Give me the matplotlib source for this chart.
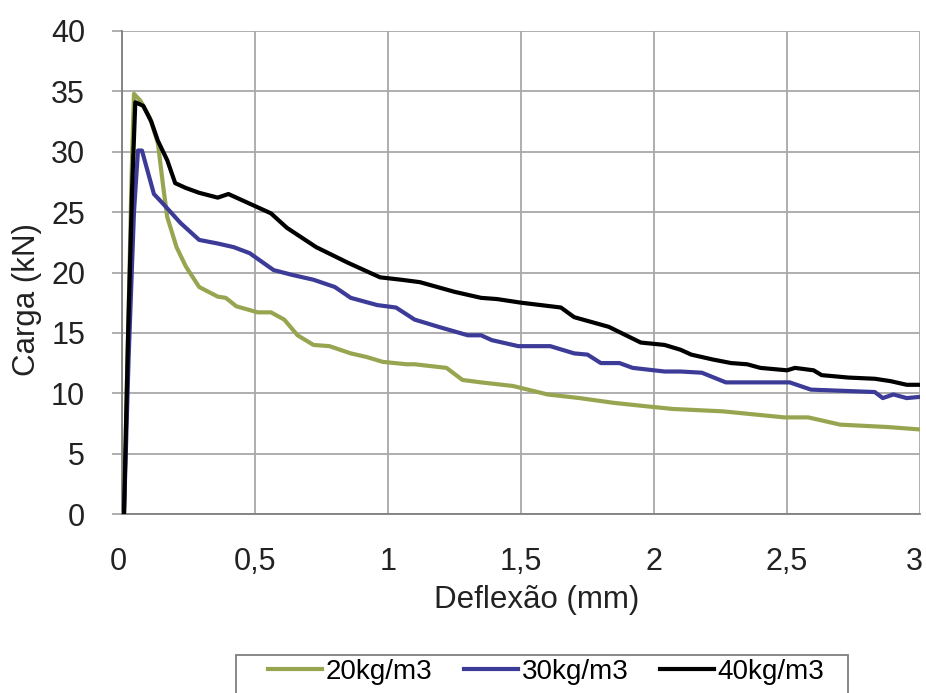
import matplotlib
matplotlib.use("Agg")
import matplotlib.pyplot as plt
from matplotlib.patches import Rectangle
from matplotlib.transforms import ScaledTranslation

plt.rcParams['font.family'] = ['Liberation Sans', 'DejaVu Sans']

# ---- data ----
x20 = [0.0075, 0.023, 0.036, 0.045, 0.07, 0.105, 0.135, 0.155, 0.17, 0.205, 0.24, 0.29, 0.36, 0.39, 0.43,
       0.51, 0.56, 0.61, 0.66, 0.72, 0.78, 0.86, 0.92, 0.98, 1.07, 1.10, 1.22, 1.28, 1.35, 1.47,
       1.60, 1.72, 1.85, 1.98, 2.07, 2.26, 2.49, 2.58, 2.70, 2.88, 3.0]
y20 = [0, 15, 28, 34.8, 34.2, 32.8, 30.7, 27.1, 24.6, 22.1, 20.5, 18.8, 18.0, 17.9, 17.2,
       16.7, 16.7, 16.1, 14.8, 14.0, 13.9, 13.3, 13.0, 12.6, 12.4, 12.4, 12.1, 11.1, 10.9, 10.6,
       9.9, 9.6, 9.2, 8.9, 8.7, 8.5, 8.0, 8.0, 7.4, 7.2, 7.0]

x30 = [0.0075, 0.025, 0.045, 0.06, 0.075, 0.095, 0.12, 0.15, 0.22, 0.29, 0.36, 0.42, 0.48, 0.57,
       0.64, 0.72, 0.80, 0.86, 0.96, 1.03, 1.10, 1.19, 1.30, 1.35, 1.39, 1.49, 1.61, 1.70, 1.75,
       1.80, 1.87, 1.92, 2.04, 2.10, 2.18, 2.27, 2.51, 2.59, 2.83, 2.86, 2.90, 2.95, 3.0]
y30 = [0, 13, 25, 30.1, 30.1, 28.5, 26.5, 25.8, 24.1, 22.7, 22.4, 22.1, 21.6, 20.2,
       19.8, 19.4, 18.8, 17.9, 17.3, 17.1, 16.1, 15.5, 14.8, 14.8, 14.4, 13.9, 13.9, 13.3, 13.2,
       12.5, 12.5, 12.1, 11.8, 11.8, 11.7, 10.9, 10.9, 10.3, 10.1, 9.6, 9.9, 9.6, 9.7]

x40 = [0.0075, 0.023, 0.038, 0.05, 0.08, 0.11, 0.135, 0.17, 0.20, 0.24, 0.29, 0.36, 0.40, 0.47,
       0.56, 0.62, 0.73, 0.85, 0.97, 1.05, 1.12, 1.25, 1.35, 1.41, 1.50, 1.65, 1.70, 1.83, 1.95,
       2.04, 2.10, 2.14, 2.22, 2.29, 2.35, 2.40, 2.50, 2.53, 2.60, 2.63, 2.73, 2.83, 2.89, 2.95, 3.0]
y40 = [0, 15, 27, 34.1, 33.8, 32.5, 30.9, 29.3, 27.4, 27.0, 26.6, 26.2, 26.5, 25.8,
       24.9, 23.7, 22.1, 20.8, 19.6, 19.4, 19.2, 18.4, 17.9, 17.8, 17.5, 17.1, 16.3, 15.5, 14.2,
       14.0, 13.6, 13.2, 12.8, 12.5, 12.4, 12.1, 11.9, 12.1, 11.9, 11.5, 11.3, 11.2, 11.0, 10.7, 10.7]

labels = ["20kg/m3", "30kg/m3", "40kg/m3"]
colors = ["#98a550", "#3d3b98", "#000000"]
xticks = [0, 0.5, 1, 1.5, 2, 2.5, 3]
xticklabels = ["0", "0,5", "1", "1,5", "2", "2,5", "3"]
yticks = [0, 5, 10, 15, 20, 25, 30, 35, 40]

W, H = 926, 693
fig = plt.figure(figsize=(W / 100, H / 100), dpi=100)
L, R, T, B = 122, 920, 31, 514
ax = fig.add_axes([L / W, 1 - B / H, (R - L) / W, (B - T) / H])

lines = []
for xs, ys, c, lab in zip([x20, x30, x40], [y20, y30, y40], colors, labels):
    ln, = ax.plot(xs, ys, color=c, lw=3.0, label=lab, solid_joinstyle='round', zorder=3)
    lines.append(ln)

ax.set_xlim(0, 3)
ax.set_ylim(0, 40)
ax.set_xticks(xticks)
ax.set_xticklabels(xticklabels)
ax.set_yticks(yticks)
ax.grid(True, color="#a8a8a8", lw=1.3)
ax.set_axisbelow(True)
for s in ['top', 'right']:
    ax.spines[s].set_visible(False)
for s in ['left', 'bottom']:
    ax.spines[s].set_color("#7f7f7f")
    ax.spines[s].set_linewidth(1.3)
ax.tick_params(axis='x', length=0, pad=24, labelsize=22, labelcolor="#222222")
ax.tick_params(axis='y', length=7.5, width=1.3, color="#a8a8a8", pad=19, labelsize=22,
               labelcolor="#222222")

# shift first and last x tick labels slightly left, as in the reference
xtl = ax.get_xticklabels()
xtl[0].set_transform(xtl[0].get_transform() + ScaledTranslation(-4 / 100, 0, fig.dpi_scale_trans))
xtl[-1].set_transform(xtl[-1].get_transform() + ScaledTranslation(-6 / 100, 0, fig.dpi_scale_trans))

ax.set_xlabel("Deflexão (mm)", fontsize=22.5, color="#222222")
ax.xaxis.set_label_coords((537 - L) / (R - L), (B - 585) / (B - T))
ax.set_ylabel("Carga (kN)", fontsize=22.5, color="#222222")
ax.yaxis.set_label_coords((42 - L) / (R - L), (B - 299) / (B - T))

# legend box
fig.patches.append(Rectangle((236 / W, 1 - 700 / H), (848 - 236) / W, (700 - 655) / H,
                             transform=fig.transFigure, facecolor='white',
                             edgecolor='#7f7f7f', lw=1.3))
fig.legend(handles=lines, loc='center left', bbox_to_anchor=(268 / W, 1 - 672 / H),
           ncol=3, frameon=False, fontsize=20, handlelength=1.95, handletextpad=0.12,
           columnspacing=1.15, borderpad=0, borderaxespad=0)

fig.savefig("out.png", dpi=100)
